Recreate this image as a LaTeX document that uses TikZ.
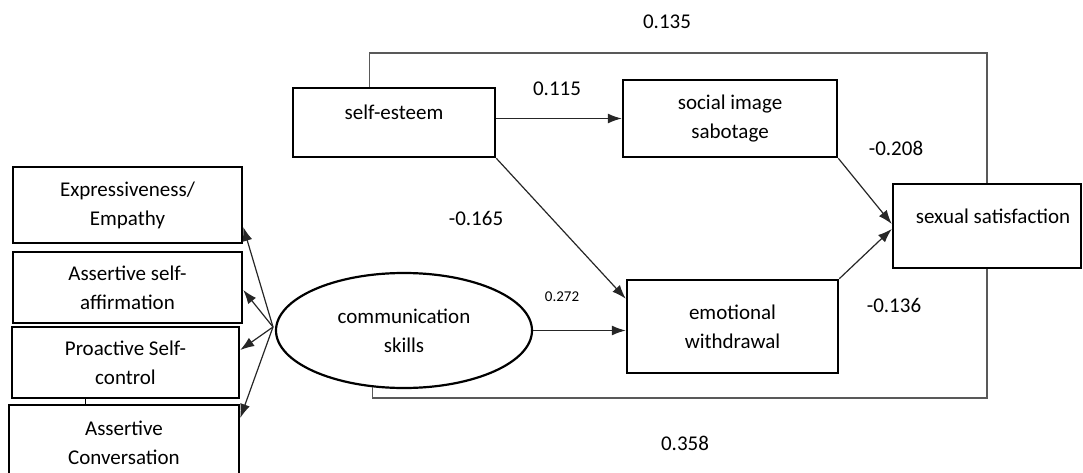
\documentclass[tikz,border=0pt]{standalone}
\usepackage{fontspec}
\setmainfont{Carlito}
\usetikzlibrary{arrows.meta,positioning,shapes.geometric,calc}

\begin{document}
\begin{tikzpicture}[
    x=1pt, y=-1pt,
    font=\fontsize{21}{29}\selectfont,
    box/.style={draw, line width=2.5pt, align=center, inner sep=0pt},
    latent/.style={draw, ellipse, line width=2.2pt, align=center, inner sep=0pt,
        minimum width=256pt, minimum height=115pt},
    raised/.style={text height=15pt, text depth=21pt},
    arr/.style={-{Latex[length=14pt,width=10pt]}, line width=1.2pt, black!85},
    link/.style={line width=1.4pt, black!65},
    coef/.style={inner sep=0pt}
    ]
    \useasboundingbox (0,0) rectangle (1083,473);

    \node[box, minimum width=229pt, minimum height=76pt] (expr) at (127.5,205) {Expressiveness/\\Empathy};
    \node[box, minimum width=229pt, minimum height=71pt] (affirm) at (127.5,287.5) {Assertive self-\\affirmation};
    \node[box, minimum width=227pt, minimum height=71pt] (proact) at (125.5,362.5) {Proactive Self-\\control};
    \node[box, minimum width=230pt, minimum height=75pt] (conv) at (124,442.5) {Assertive\\Conversation};
    \node[latent] (comm) at (404,330.5) {communication\\skills};
    \node[box, raised, minimum width=202pt, minimum height=69pt] (selfest) at (394,122.5) {self-esteem};
    \node[box, minimum width=214pt, minimum height=77pt] (social) at (730,118.5) {social image\\sabotage};
    \node[box, minimum width=211pt, minimum height=93pt] (emo) at (732.5,326.5) {emotional\\withdrawal};
    \node[box, raised, minimum width=188pt, minimum height=84pt] (sexsat) at (987,226) {\hspace*{12pt}sexual satisfaction};

    \coordinate (hub) at (273,327);
    \coordinate (topy) at (0,53);
    \coordinate (boty) at (0,398);
    \coordinate (stub) at (85,0);

    \draw[arr] (hub) -- ($(expr.east)+(0,22)$);
    \draw[arr] (hub) -- ($(affirm.east)+(0,2.5)$);
    \draw[arr] (hub) -- ($(proact.east)+(0,-12.5)$);
    \draw[arr] (hub) -- ($(conv.east)+(0,-24.5)$);
    \draw[arr] (selfest.east |- social.west) -- (social.west);
    \draw[arr] (selfest.south east) -- ($(emo.north west)+(0,20)$);
    \draw[arr] (comm.east) -- (comm.east -| emo.west);
    \draw[arr] (social.south east) -- ($(sexsat.west)+(0,-2)$);
    \draw[arr] (emo.north east) -- ($(sexsat.west)+(0,3)$);
    \draw[link] ($(selfest.north west)+(78,0)$) |- (sexsat.north |- topy) -- (sexsat.north);
    \draw[link] (comm.241) |- (sexsat.south |- boty) -- (sexsat.south);
    \draw[line width=1pt] (proact.south -| stub) -- (conv.north -| stub);

    \node[coef] (c135) at (667,22) {0.135};
    \node[coef] (c115) at (557,89) {0.115};
    \node[coef] (c165) at (476,218) {-0.165};
    \node[coef, font=\fontsize{15}{18}\selectfont] (c272) at (562,297) {0.272};
    \node[coef] (c208) at (896,148) {-0.208};
    \node[coef] (c136) at (894,305) {-0.136};
    \node[coef] (c358) at (685,443) {0.358};
\end{tikzpicture}
\end{document}
